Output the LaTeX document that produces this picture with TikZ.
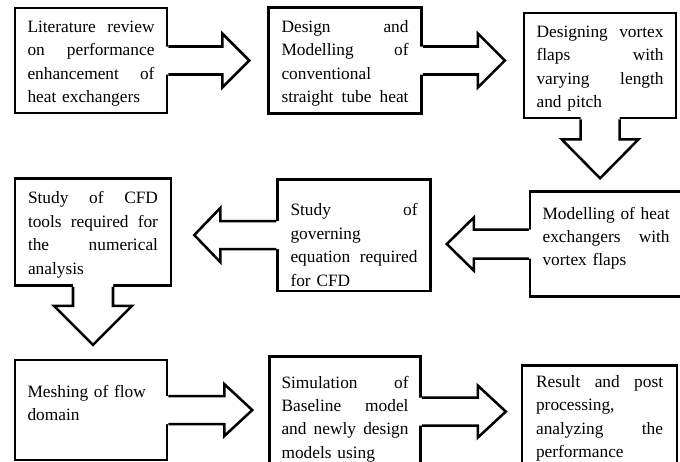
\documentclass[tikz,border=0pt]{standalone}
\usepackage{fontspec}
\setmainfont{Liberation Serif}
\usetikzlibrary{positioning}
\newcommand{\spread}[2][95.25pt]{\makebox[#1][s]{#2}}

\begin{document}
\begin{tikzpicture}[x=0.75pt, y=-0.75pt]
\tikzstyle{stage}=[rectangle, draw=black, line width=1.9pt, minimum width=114pt, minimum height=78.75pt, text width=95.25pt, inner xsep=9pt, text height=13pt, align=left, font=\fontsize{13}{17.6}\selectfont]
\tikzstyle{connect}=[draw=black, line width=1.9pt]
\tikzset{pics/flow/.style n args={4}{code={
  \fill[white] (-3,-#2) -- (#1-#4,-#2) -- (#1-#4,-#3) -- (#1,0) -- (#1-#4,#3) -- (#1-#4,#2) -- (-3,#2) -- cycle;
  \draw[connect] (0,-#2) -- (#1-#4,-#2) -- (#1-#4,-#3) -- (#1,0) -- (#1-#4,#3) -- (#1-#4,#2) -- (0,#2);
}}}
\useasboundingbox (0,0) rectangle (680,461);
\clip (0,0) rectangle (680,461);
% first row
\node[stage] (lit) at (91,60.5) {\spread{Literature\hfill review}\\ \spread{on\hfill performance}\\ \spread{enhancement\hfill of}\\ heat exchangers};
\node[stage, minimum width=114.75pt, minimum height=79.5pt] (design) [right=74.25pt of lit] {\spread{Design\hfill and}\\ \spread{Modelling\hfill of}\\ conventional\\ \spread{straight\hfill tube\hfill heat}};
\node[stage] (vortex) [right=75pt of design, yshift=-3.75pt] {\spread{Designing\hfill vortex}\\ \spread{flaps\hfill with}\\ \spread{varying\hfill length}\\ and pitch};
% second row
\node[stage, text depth=50.5pt] (model) [below=53.25pt of vortex, xshift=4.5pt] {\spread{Modelling\hfill of\hfill heat}\\ \spread{exchangers\hfill with}\\ vortex flaps};
\node[stage, minimum width=114.75pt, text height=24pt] (govern) [left=72.75pt of model, yshift=6.75pt] {\spread{Study\hfill of}\\ governing\\ \spread{equation\hfill required}\\ for CFD};
\node[stage, minimum width=117pt, minimum height=80.25pt, text width=97.5pt] (tools) [left=78pt of govern, yshift=2.25pt] {\spread[97.5pt]{Study\hfill of\hfill CFD}\\ \spread[97.5pt]{tools\hfill required\hfill for}\\ \spread[97.5pt]{the\hfill numerical}\\ analysis};
% third row
\node[stage, minimum height=75pt, text depth=32.5pt] (mesh) [below=54pt of tools, xshift=-1.5pt] {Meshing of flow\\ domain};
\node[stage, minimum width=113.25pt, minimum height=77.25pt, text height=20.3pt] (simul) [right=75pt of mesh, yshift=-1.125pt] {\spread{Simulation\hfill of}\\ \spread{Baseline\hfill model}\\ \spread{and\hfill newly\hfill design}\\ models using};
\node[stage, minimum width=116.25pt, minimum height=82.5pt, text height=6pt] (result) [right=74.25pt of simul, yshift=-6.5pt] {\spread{Result\hfill and\hfill post}\\ processing,\\ \spread{analyzing\hfill the}\\ performance};
% block arrows
\pic at (lit.east) {flow={81}{14}{27}{27}};
\pic at (design.east) {flow={82}{14}{27}{27}};
\pic[rotate=-90] at (vortex.south) {flow={59}{19.5}{38.5}{39}};
\pic[rotate=180] at (model.west) {flow={82}{14.5}{26.5}{27}};
\pic[rotate=180] at (govern.west) {flow={82}{14}{27}{26}};
\pic[rotate=-90] at (tools.south) {flow={58}{20}{39}{39}};
\pic at (mesh.east) {flow={84}{14}{26}{28}};
\pic at (simul.east) {flow={84}{14}{26}{28}};
\end{tikzpicture}
\end{document}
